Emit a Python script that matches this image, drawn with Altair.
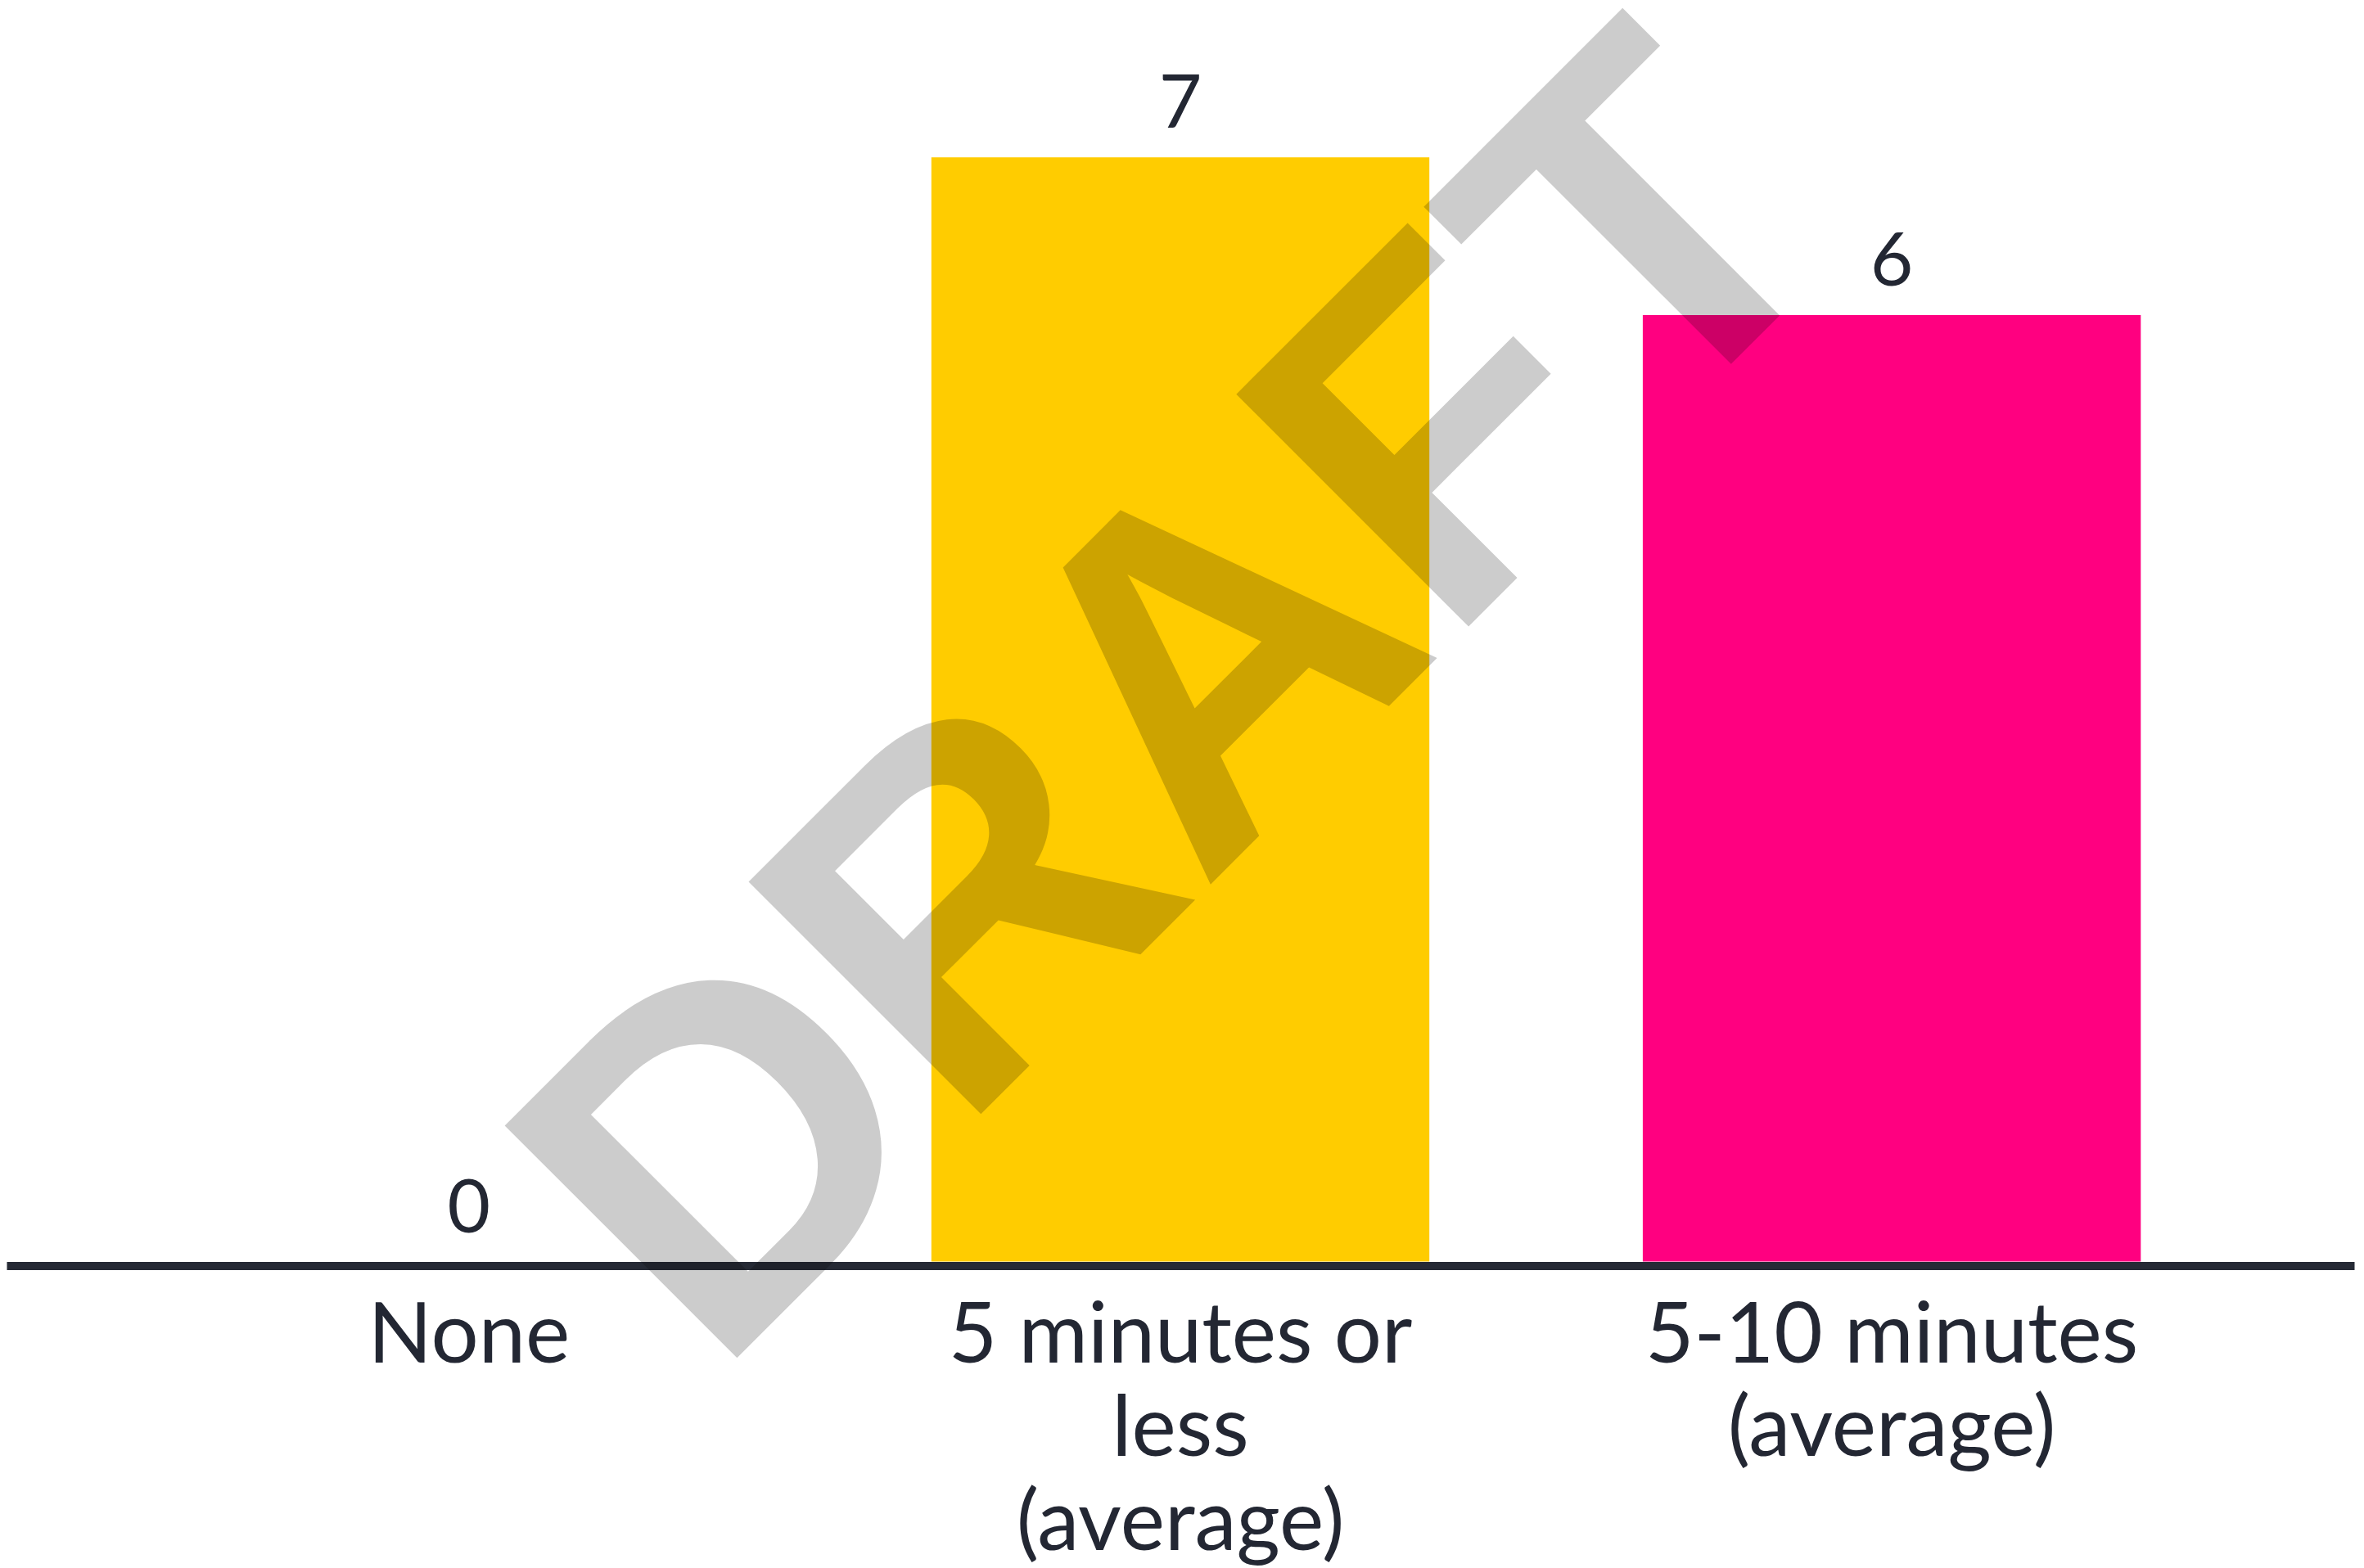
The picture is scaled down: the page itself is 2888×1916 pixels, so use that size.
import altair as alt
import pandas as pd

# ---- data ----
categories = ["None", "5 minutes or less (average)", "5-10 minutes (average)"]
values = [0, 7, 6]
label_lines = [["None"], ["5 minutes or", "less", "(average)"], ["5-10 minutes", "(average)"]]
watermark = ["DRAFT"]

bar_colors = ["#FFCC00", "#FFCC00", "#FF0080"]
text_color = "#232733"

df = pd.DataFrame({"category": categories, "value": values})

# label expression producing multi-line labels
parts = []
for cat, lines in zip(categories, label_lines):
    arr = "[" + ",".join("'" + l + "'" for l in lines) + "]"
    parts.append((cat, arr))
expr = ""
for cat, arr in parts[:-1]:
    expr += f"datum.value == '{cat}' ? {arr} : "
expr += parts[-1][1]

x_enc = alt.X(
    "category:N",
    sort=categories,
    scale=alt.Scale(paddingInner=0.3, paddingOuter=0.3, align=0.5),
    axis=alt.Axis(
        title=None,
        labelAngle=0,
        labelExpr=expr,
        labelFont="Lato",
        labelFontSize=103,
        labelColor=text_color,
        labelLineHeight=115,
        labelPadding=37,
        labelLimit=2000,
        ticks=False,
        tickSize=0,
        domain=True,
        domainColor="#262A35",
        domainWidth=10,
        offset=5,
        grid=False,
    ),
)
y_enc = alt.Y("value:Q", scale=alt.Scale(domain=[0, 7], nice=False, zero=True), axis=None)

base = alt.Chart(df)

bars = base.mark_bar().encode(
    x=x_enc,
    y=y_enc,
    color=alt.Color("category:N", scale=alt.Scale(domain=categories, range=bar_colors), legend=None),
)

labels = base.mark_text(
    font="Lato", fontSize=91, color=text_color, baseline="alphabetic", align="center", dy=-36
).encode(
    x=alt.X("category:N", sort=categories),
    y=alt.Y("value:Q"),
    text=alt.Text("value:Q"),
)

wm = alt.Chart(pd.DataFrame({"t": watermark})).mark_text(
    font="Liberation Sans",
    fontWeight="bold",
    fontSize=585,
    color="#CCCCCC",
    angle=315,
    align="center",
    baseline="alphabetic",
    blend="multiply",
).encode(
    text="t:N",
    x=alt.value(1568),
    y=alt.value(798),
)

chart = (
    alt.layer(bars, labels, wm)
    .properties(
        width=2876,
        height=1353,
        autosize=alt.AutoSizeParams(type="none"),
        padding={"left": 0, "top": 182, "right": 4, "bottom": 400},
        background="white",
    )
    .configure_view(strokeWidth=0)
)

chart.save("out.html", embed_options={"renderer": "svg", "actions": False})
